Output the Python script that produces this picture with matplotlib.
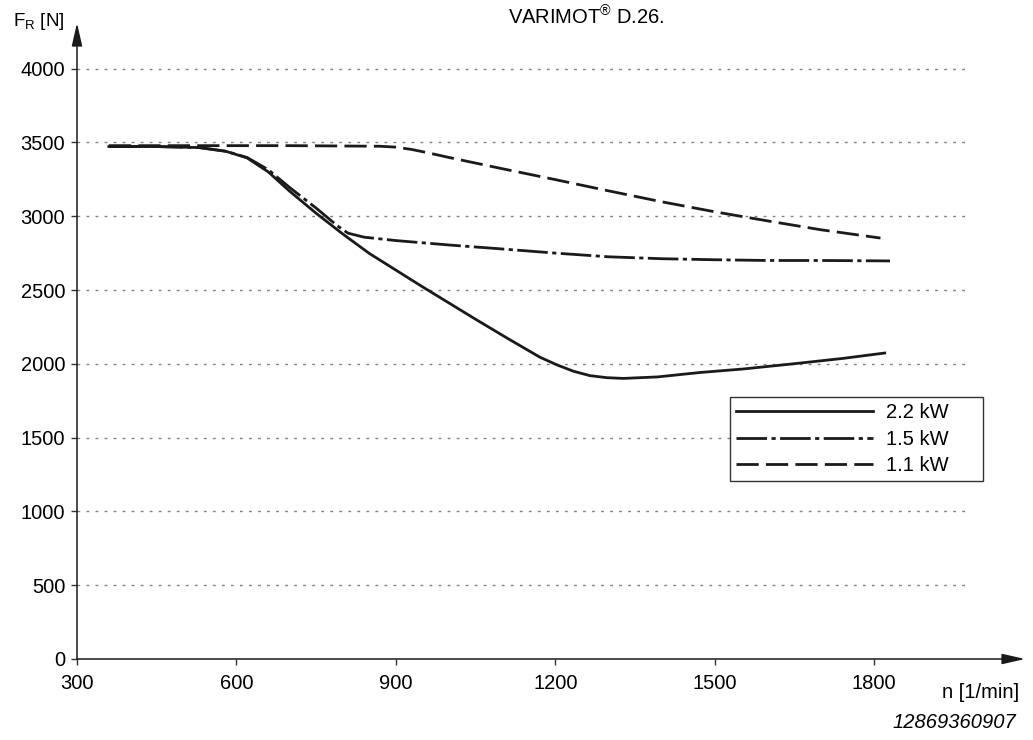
# -*- coding: utf-8 -*-

import matplotlib
matplotlib.use("Agg")
import matplotlib.pyplot as plt

plt.rcParams['font.family'] = ['Liberation Sans', 'DejaVu Sans']
plt.rcParams['mathtext.fontset'] = 'custom'
plt.rcParams['mathtext.rm'] = 'Liberation Sans'
plt.rcParams['mathtext.it'] = 'Liberation Sans:italic'

# data
n_22 = [360, 450, 530, 580, 620, 660, 700, 750, 800, 850, 900, 950, 1000,
        1050, 1109, 1171, 1203, 1234, 1265, 1297, 1328, 1392, 1472, 1554,
        1648, 1740, 1820]
F_22 = [3472, 3472, 3465, 3440, 3395, 3300, 3170, 3020, 2880, 2748, 2635,
        2522, 2412, 2302, 2175, 2045, 1993, 1950, 1920, 1906, 1901, 1911,
        1941, 1965, 2000, 2036, 2073]

n_15 = [360, 450, 530, 580, 620, 660, 700, 750, 790, 810, 840, 900, 1000,
        1100, 1200, 1300, 1400, 1500, 1600, 1700, 1830]
F_15 = [3472, 3472, 3465, 3440, 3398, 3315, 3195, 3055, 2935, 2885, 2858,
        2835, 2805, 2778, 2750, 2725, 2712, 2705, 2700, 2700, 2697]

n_11 = [360, 500, 700, 870, 900, 930, 960, 1000, 1100, 1200, 1300, 1400,
        1500, 1600, 1700, 1812]
F_11 = [3478, 3478, 3478, 3474, 3468, 3452, 3430, 3398, 3322, 3248, 3172,
        3098, 3030, 2968, 2908, 2852]

labels = ['2.2 kW', '1.5 kW', '1.1 kW']
x_ticks = [300, 600, 900, 1200, 1500, 1800]
y_ticks = [0, 500, 1000, 1500, 2000, 2500, 3000, 3500, 4000]

W, H = 1033, 740
fs = 14.5
fig = plt.figure(figsize=(W / 100, H / 100), dpi=100)
ax = fig.add_axes([77 / W, 81 / H, (1025 - 77) / W, (659 - 23) / H])
ax.set_xlim(300, 2084)
ax.set_ylim(0, 4309)

# grid
ax.hlines(y_ticks[1:], 300, 1980, colors='#808080', linewidth=1.0,
          linestyles=(0, (2, 4.5)), zorder=1)

# curves
ax.plot(n_22, F_22, color='#1a1a1a', lw=2.0, ls='-', label=labels[0], zorder=3)
ax.plot(n_15, F_15, color='#1a1a1a', lw=2.0, ls=(0, (11, 1.6, 1.5, 1.6)),
        label=labels[1], zorder=3)
ax.plot(n_11, F_11, color='#1a1a1a', lw=2.0, ls=(0, (8, 2.6)),
        label=labels[2], zorder=3)

# axes with arrows
for s in ax.spines.values():
    s.set_visible(False)
arrow = dict(arrowstyle='-|>,head_length=1.4,head_width=0.32', lw=1.1,
             color='#1a1a1a', shrinkA=0, shrinkB=0, mutation_scale=10)
ax.annotate('', xy=(1, 0), xytext=(0, 0), xycoords='axes fraction',
            arrowprops=arrow, annotation_clip=False)
ax.annotate('', xy=(0, 1), xytext=(0, 0), xycoords='axes fraction',
            arrowprops=arrow, annotation_clip=False)

ax.set_xticks(x_ticks)
ax.set_yticks(y_ticks)
ax.tick_params(axis='both', labelsize=fs, color='#333333', width=1,
               length=4.5, direction='out')
ax.tick_params(axis='x', pad=6)
ax.tick_params(axis='y', pad=4)

leg = ax.legend(loc='upper left', bbox_to_anchor=(730 / W, 1 - 397 / H, 253 / W, 0),
                bbox_transform=fig.transFigure, mode='expand', fontsize=fs,
                handlelength=6.8, handletextpad=0.65, labelspacing=0.38,
                borderpad=0.3, borderaxespad=0, fancybox=False,
                framealpha=1, edgecolor='#333333')
leg.get_frame().set_linewidth(1.0)
leg.set_zorder(5)

# texts
fig.text(13 / W, 1 - 26 / H, r'F$_\mathregular{R}$ [N]', fontsize=13.5,
         va='baseline', ha='left')
fig.text(586 / W, 1 - 25 / H, r'VARIMOT$^\mathregular{®}$ D.26.',
         fontsize=fs, va='baseline', ha='center')
fig.text(1019 / W, 1 - 692 / H, 'n [1/min]', fontsize=fs,
         va='center', ha='right')
fig.text(1016 / W, 1 - 723 / H, '12869360907', fontsize=fs,
         style='italic', va='center', ha='right')

fig.savefig('out.png', dpi=100)
